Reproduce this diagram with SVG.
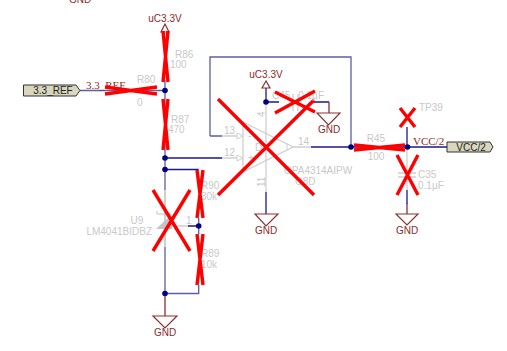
<svg xmlns="http://www.w3.org/2000/svg" width="507" height="351" viewBox="0 0 507 351">
<style>
text{font-family:"Liberation Sans",Arial,sans-serif;font-size:10px}
.r{fill:#8b2a2a}.g{fill:#c8c8c8}.k{fill:#222}
.s{font-family:"Liberation Serif","Times New Roman",serif;font-size:11px}
.w{fill:none;stroke:#5a5fa8;stroke-width:1.3}
.d{fill:none;stroke:#1a1a90;stroke-width:1.3}
.e{fill:none;stroke:#cfcfcf;stroke-width:1.3}
.b{fill:none;stroke:#8b3030;stroke-width:1.3}
.j{fill:#00007f}
.x{fill:none;stroke:#ff0000;stroke-width:3.4}
.p{fill:#d8d6bc;stroke:#333;stroke-width:1}
</style>
<rect width="507" height="351" fill="#fff"/>
<g id="connectors">
<path class="w" d="M80 90.5H165M165 80V190M165 247V293.5H198.7V285M198.7 218V234M210 136V57H351V147M210 136H222"/>
<path class="d" d="M165 158H222M165 169.5H198.7M311 147H351M351 147H447M266 192V214M266 88V102H279M311 102H329M407 127V147M407 190V204M188 226H198.7"/>
<path class="b" d="M329 102V113M165 293.5V316M407 203V214"/>
<path class="e" d="M222 136H243M222 158H243M293 147H311M266 102V192M171 226H188M407 147V190"/>
</g>
<g id="top-gnd"><text class="r" x="80" y="3" text-anchor="middle">GND</text></g>
<g id="port-3v3"><path class="p" d="M23.5 85H76L80 90.5L76 96H23.5Z"/><text class="k" x="53" y="94" text-anchor="middle">3.3_REF</text></g>
<g id="net-3v3"><text class="r s" x="86" y="89">3.3_REF</text></g>
<g id="uc33-a"><text class="r" x="165" y="22" text-anchor="middle">uC3.3V</text><path d="M165 24L161 32H169Z" fill="#fff" stroke="#8b3030" stroke-width="1.2"/></g>
<g id="R86"><text class="g" x="175" y="58">R86</text><text class="g" x="170" y="68">100</text><path class="x" d="M163 31L168 82M168 31L163 82"/></g>
<g id="R80"><text class="g" x="137" y="83">R80</text><text class="g" x="137" y="106">0</text><path class="x" d="M105 94L157 87M105 87L157 94"/></g>
<g id="R87"><text class="g" x="171" y="123">R87</text><text class="g" x="168" y="133">470</text><path class="x" d="M163 99L168 150M168 99L163 150"/></g>
<g id="junctions"><circle class="j" cx="165" cy="90.5" r="2.8"/><circle class="j" cx="165" cy="158" r="2.8"/><circle class="j" cx="165" cy="169.5" r="2.8"/><circle class="j" cx="198.7" cy="226" r="2.8"/><circle class="j" cx="165" cy="293.5" r="2.8"/><circle class="j" cx="266" cy="102" r="2.8"/><circle class="j" cx="351" cy="147" r="2.8"/><circle class="j" cx="407.5" cy="147" r="2.8"/></g>
<g id="U-opamp">
<path d="M243 122L293 147L243 172Z" fill="none" stroke="#cfcfcf" stroke-width="1.3"/>
<path d="M237 133L243 136L237 139ZM237 155L243 158L237 161ZM287 144L293 147L287 150Z" fill="#fff" stroke="#cfcfcf"/>
<text class="g" x="224" y="134">13</text><text class="g" x="224" y="156">12</text><text class="g" x="298" y="145">14</text>
<text class="g" x="248" y="139">-</text><text class="g" x="248" y="161">+</text><text class="g" x="255" y="151">D</text>
<text class="g" transform="translate(265 117) rotate(-90)">4</text><text class="g" transform="translate(265 187) rotate(-90)">11</text>
<text class="g" x="284" y="174">OPA4314AIPW</text><text class="g" x="295" y="185">O8D</text>
<path class="x" d="M218 99L314 195M218 195L314 100"/>
</g>
<g id="uc33-b"><text class="r" x="266" y="78" text-anchor="middle">uC3.3V</text><path d="M266 81L262 88H270Z" fill="#fff" stroke="#8b3030" stroke-width="1.2"/></g>
<g id="cap-top"><path class="e" d="M293 94V111M298 94V111"/><text class="g" x="272" y="99">C45</text><text class="g" x="324" y="99" text-anchor="end">0.1µF</text><path class="x" d="M275 92L315 112M275 113L315 91"/></g>
<g id="gnd-cap"><path d="M317 113H340L328.5 125Z" fill="#fff" stroke="#8b3030" stroke-width="1.2"/><text class="r" x="329" y="133" text-anchor="middle">GND</text></g>
<g id="gnd-op"><path d="M255 214H278L266 226Z" fill="#fff" stroke="#8b3030" stroke-width="1.2"/><text class="r" x="266" y="234" text-anchor="middle">GND</text></g>
<g id="R90"><text class="g" x="201" y="189">R90</text><text class="g" x="201" y="200">30k</text><path class="x" d="M197 170L203 218M203 170L197 218"/></g>
<g id="R89"><text class="g" x="201" y="257">R89</text><text class="g" x="201" y="268">10k</text><path class="x" d="M197 234L203 285M203 234L197 285"/></g>
<g id="U9">
<path d="M165 190V247" stroke="#cfcfcf" stroke-width="2" fill="none"/><path d="M156 229L171 215L172 229Z" fill="#c4c4c4"/><path d="M157 211V214H171" fill="none" stroke="#c4c4c4"/>
<text class="g" x="137" y="224" text-anchor="middle">U9</text><text class="g" x="152" y="235" text-anchor="end">LM4041BIDBZ</text>
<text class="g" x="186" y="224">1</text>
<path class="x" d="M153 190L190 251M153 251L190 190"/>
</g>
<g id="gnd-u9"><path d="M153 316H177L165 328Z" fill="#fff" stroke="#8b3030" stroke-width="1.2"/><text class="r" x="165" y="336" text-anchor="middle">GND</text></g>
<g id="R45"><text class="g" x="376" y="142" text-anchor="middle">R45</text><text class="g" x="376" y="160" text-anchor="middle">100</text><path class="x" d="M354 145L405 150M354 150L405 145"/></g>
<g id="TP39"><text class="g" x="419" y="111">TP39</text><path class="x" d="M400 108L415 127M415 108L400 127"/></g>
<g id="net-vcc"><text class="r s" x="413" y="145">VCC/2</text></g>
<g id="C35"><path class="e" d="M398 173H416M398 177H416"/><text class="g" x="418" y="178">C35</text><text class="g" x="418" y="189">0.1µF</text><path class="x" d="M397 155L418 195M418 155L397 195"/></g>
<g id="gnd-c35"><path d="M396 214H418L407 225Z" fill="#fff" stroke="#8b3030" stroke-width="1.2"/><text class="r" x="407" y="234" text-anchor="middle">GND</text></g>
<g id="port-vcc"><path class="p" d="M447 142H490L493 147L490 152H447Z"/><text class="k" x="471" y="151" text-anchor="middle">VCC/2</text></g>
</svg>
